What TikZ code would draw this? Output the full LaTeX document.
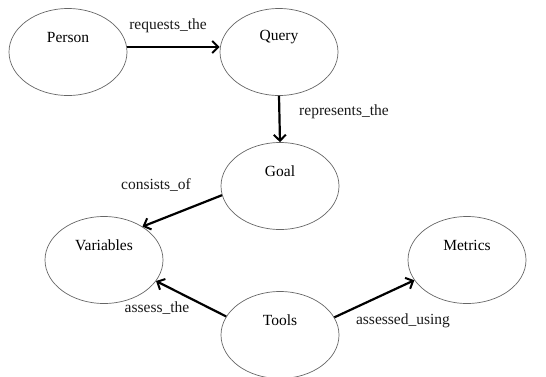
\documentclass[tikz,border=0pt]{standalone}
\usepackage{fontspec}
\setmainfont{Liberation Serif}
\usetikzlibrary{shapes.geometric,arrows.meta}
\begin{document}
\begin{tikzpicture}[x=1pt,y=-1pt,
  ent/.style={ellipse, draw=black!60, line width=0.7pt, minimum width=118pt, minimum height=87pt, inner sep=0pt},
  ename/.style={font=\fontsize{15.5}{17}\selectfont, text=black, yshift=15pt},
  rel/.style={font=\fontsize{15.5}{17}\selectfont, text=black!90, inner sep=0pt},
  conn/.style={line width=2.2pt, draw=black, -{Straight Barb[length=6pt,width=12pt,line width=2pt]}}]
\useasboundingbox (0,0) rectangle (546,376);
\node[ent, label={[ename]center:Person}] (p) at (68,52) {};
\node[ent, label={[ename]center:Query}] (q) at (279,52) {};
\node[ent, label={[ename]center:Goal}] (g) at (280,186) {};
\node[ent, label={[ename]center:Variables}] (v) at (104,260) {};
\node[ent, label={[ename]center:Metrics}] (m) at (467,260) {};
\node[ent, label={[ename]center:Tools}] (t) at (280,335) {};
\draw[conn] ([yshift=5pt]p.east) -- ([yshift=5pt]q.west);
\draw[conn] (q.south) -- (g.north);
\draw[conn] (g.189) -- (v.41);
\draw[conn] (t.161) -- (v.338);
\draw[conn] (t.18) -- (m.201);
\node[rel] (l1) at (168,26) {requests\_the};
\node[rel] (l2) at (344,112) {represents\_the};
\node[rel] (l3) at (156,185) {consists\_of};
\node[rel] (l4) at (157,308) {assess\_the};
\node[rel] (l5) at (403,321) {assessed\_using};
\end{tikzpicture}
\end{document}
